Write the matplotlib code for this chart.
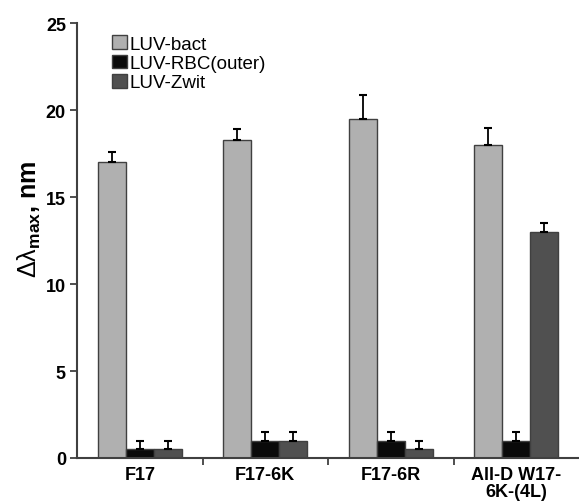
import matplotlib
matplotlib.use("Agg")
import matplotlib.pyplot as plt
import numpy as np

categories = ["F17", "F17-6K", "F17-6R", "All-D W17-\n6K-(4L)"]
series_names = ["LUV-bact", "LUV-RBC(outer)", "LUV-Zwit"]
bact = [17.0, 18.3, 19.5, 18.0]
bact_err = [0.6, 0.6, 1.4, 1.0]
rbc = [0.5, 1.0, 1.0, 1.0]
rbc_err = [0.5, 0.5, 0.5, 0.5]
zwit = [0.5, 1.0, 0.5, 13.0]
zwit_err = [0.5, 0.5, 0.5, 0.5]
yticks = [0, 5, 10, 15, 20, 25]

colors = ["#b0b0b0", "#0a0a0a", "#505050"]

plt.rcParams['font.family'] = ['Liberation Sans', 'DejaVu Sans']
plt.rcParams['mathtext.fontset'] = 'custom'
plt.rcParams['mathtext.rm'] = 'Liberation Sans'
plt.rcParams['mathtext.it'] = 'Liberation Sans:italic'
plt.rcParams['mathtext.bf'] = 'Liberation Sans:bold'
fig = plt.figure(figsize=(5.79, 5.02), dpi=100)
ax = fig.add_axes([0.133, 0.0857, 0.867, 0.866])

x = np.arange(len(categories))
w = 0.223
for i, (vals, errs) in enumerate([(bact, bact_err), (rbc, rbc_err), (zwit, zwit_err)]):
    ax.bar(x + (i - 1) * w, vals, w, color=colors[i], edgecolor="#404040",
           linewidth=1.0, label=series_names[i], zorder=2)
    ax.errorbar(x + (i - 1) * w, vals, yerr=[np.zeros(len(errs)), errs],
                fmt='none', ecolor='black', elinewidth=1.3, capsize=3,
                capthick=1.5, zorder=3)

ax.set_xlim(-0.5, 3.5)
ax.set_ylim(0, 25)
ax.set_yticks(yticks)
ax.set_yticklabels([str(t) for t in yticks], fontweight='bold', fontsize=13)
ax.set_xticks(x)
ax.set_xticklabels(categories, fontweight='bold', fontsize=13, linespacing=0.95)
ax.tick_params(axis='x', which='major', length=0, pad=6)
ax.set_xticks([0.5, 1.5, 2.5], minor=True)
ax.tick_params(axis='x', which='minor', length=5, width=1.3, color='#404040')
ax.tick_params(axis='y', length=5, width=1.3, color='#404040', pad=3)

for s in ['top', 'right']:
    ax.spines[s].set_visible(False)
for s in ['left', 'bottom']:
    ax.spines[s].set_linewidth(1.5)
    ax.spines[s].set_color('#404040')

ax.set_ylabel(r'$\mathrm{\Delta\lambda}_{\mathbf{max}}$' + ', nm', fontsize=18, fontweight='bold')
ax.yaxis.set_label_coords(-0.068, 0.55)

leg = ax.legend(loc='upper left', bbox_to_anchor=(0.052, 0.994), frameon=False,
                fontsize=13.5, handlelength=0.75, handleheight=0.75,
                handletextpad=0.15, labelspacing=0.1, borderpad=0)

fig.savefig("out.png", dpi=100)
